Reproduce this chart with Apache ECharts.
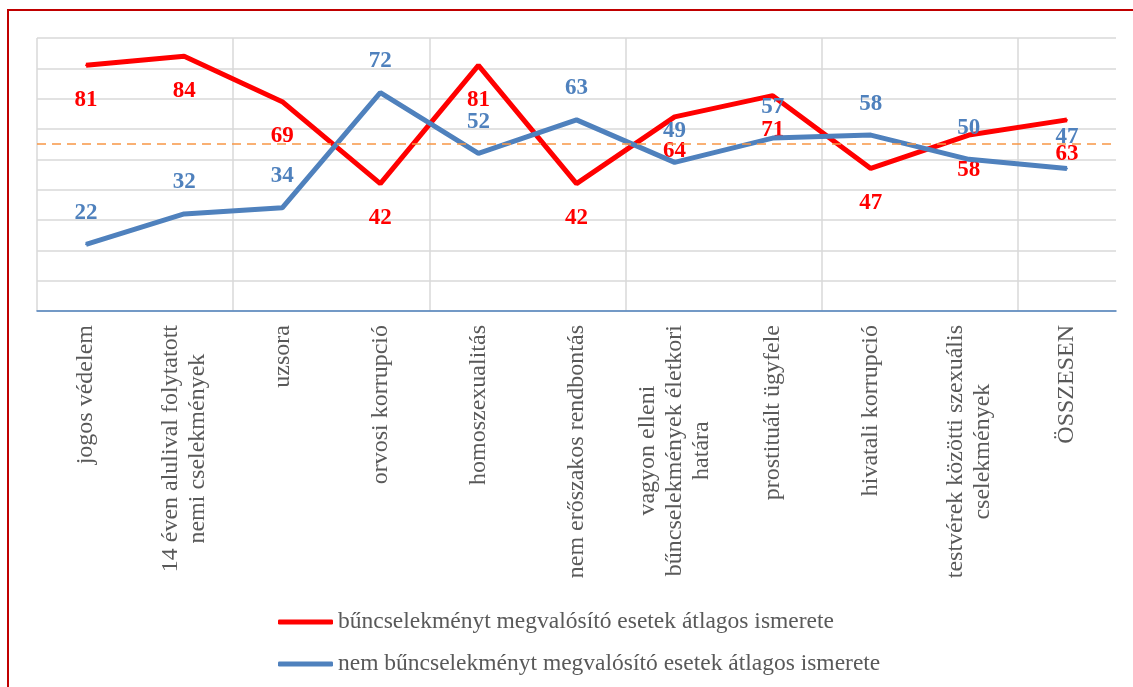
<!DOCTYPE html>
<html>
<head>
<meta charset="utf-8">
<script src="https://cdn.jsdelivr.net/npm/echarts@6/dist/echarts.min.js"></script>
<style>
  html, body { margin: 0; padding: 0; background: #fff; overflow: hidden; }
  #frame { position: absolute; left: 7px; top: 9px; width: 1200px; height: 800px;
           border-left: 2px solid #c00000; border-top: 2px solid #c00000; }
  #main { position: absolute; left: 0; top: 0; width: 1133px; height: 687px; }
</style>
</head>
<body>
<div id="frame"></div>
<div id="main"></div>
<script>
var categories = [
  "jogos védelem",
  "14 éven alulival folytatott\nnemi cselekmények",
  "uzsora",
  "orvosi korrupció",
  "homoszexualitás",
  "nem erőszakos rendbontás",
  "vagyon elleni\nbűncselekmények életkori\nhatára",
  "prostituált ügyfele",
  "hivatali korrupció",
  "testvérek közötti szexuális\ncselekmények",
  "ÖSSZESEN"
];
var crimeValues = [81, 84, 69, 42, 81, 42, 64, 71, 47, 58, 63];
var nonCrimeValues = [22, 32, 34, 72, 52, 63, 49, 57, 58, 50, 47];
var seriesNames = [
  "bűncselekményt megvalósító esetek átlagos ismerete",
  "nem bűncselekményt megvalósító esetek átlagos ismerete"
];
var averageLevel = 55;

var serif = "Liberation Serif";
var gridColor = "#d9d9d9";

var chart = echarts.init(document.getElementById("main"));

var option = {
  animation: false,
  grid: { left: 37, right: 17, top: 38, bottom: 376 },
  legend: {
    orient: "vertical",
    left: 273,
    top: 605,
    itemWidth: 55,
    itemHeight: 5,
    itemGap: 18,
    icon: "roundRect",
    data: seriesNames,
    textStyle: { color: "#595959", fontSize: 23.5, fontFamily: serif }
  },
  xAxis: {
    type: "category",
    data: categories,
    boundaryGap: true,
    axisLine: { lineStyle: { color: "#4f81bd", width: 1.5 } },
    axisTick: { show: false },
    splitLine: {
      show: true,
      interval: 1,
      showMaxLine: false,
      lineStyle: { color: gridColor, width: 1.5 }
    },
    axisLabel: {
      interval: 0,
      rotate: 90,
      margin: 14,
      color: "#595959",
      fontSize: 24,
      fontFamily: serif,
      lineHeight: 27,
      formatter: function (v) {
        return v.split("\n").map(function (s) { return "{c|" + s + "}"; }).join("\n");
      },
      rich: {
        c: { align: "center", color: "#595959", fontSize: 24, fontFamily: serif, lineHeight: 27 }
      }
    }
  },
  yAxis: {
    type: "value",
    min: 0,
    max: 90,
    interval: 10,
    axisLabel: { show: false },
    axisLine: { show: false },
    axisTick: { show: false },
    splitLine: { lineStyle: { color: gridColor, width: 1.5 } }
  },
  series: [
    {
      name: seriesNames[0],
      type: "line",
      data: crimeValues,
      symbol: "circle",
      symbolSize: 2,
      itemStyle: { color: "#ff0000" },
      lineStyle: { color: "#ff0000", width: 5 },
      label: {
        show: true,
        position: "bottom",
        distance: 22,
        color: "#ff0000",
        fontWeight: "bold",
        fontSize: 23,
        fontFamily: serif
      },
      markLine: {
        silent: true,
        symbol: "none",
        label: { show: false },
        lineStyle: { color: "#f79646", type: [9, 6], width: 1.5 },
        data: [{ yAxis: averageLevel }]
      },
      z: 3
    },
    {
      name: seriesNames[1],
      type: "line",
      data: nonCrimeValues,
      symbol: "circle",
      symbolSize: 2,
      itemStyle: { color: "#4f81bd" },
      lineStyle: { color: "#4f81bd", width: 5 },
      label: {
        show: true,
        position: "top",
        distance: 19,
        color: "#4f81bd",
        fontWeight: "bold",
        fontSize: 23,
        fontFamily: serif
      },
      z: 4
    }
  ]
};

chart.setOption(option);
</script>
</body>
</html>
